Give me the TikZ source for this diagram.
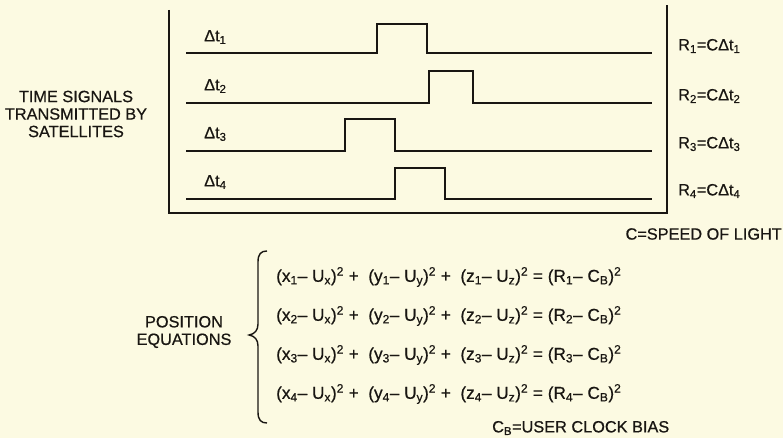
\documentclass[tikz,border=0pt]{standalone}
\usepackage{fontspec}
\setmainfont{Liberation Sans}[FakeBold=0.6]
\definecolor{paper}{RGB}{252,250,226}
\definecolor{ink}{RGB}{25,22,18}
\newcommand{\sbs}[1]{\textsubscript{#1}}
\newcommand{\sps}[1]{\textsuperscript{#1}}
\begin{document}
\begin{tikzpicture}[x=1pt,y=-1pt,
  wire/.style={line width=2.7pt, draw=ink, line join=miter},
  frame/.style={line width=2.3pt, draw=ink},
  lbl/.style={font=\fontsize{16.3}{17.5}\selectfont, text=ink, inner sep=0pt},
  eqn/.style={font=\fontsize{17.2}{18}\selectfont, text=ink, inner sep=0pt, anchor=west},
  brace/.style={line width=1.4pt, draw=ink}]
\fill[paper] (0,0) rectangle (783,438);
\useasboundingbox (0,0) rectangle (783,438);
% frame
\draw[frame] (169,10) -- (169,213) -- (667,213) -- (667,5);
% signals
\draw[wire] (186,53) -- (377,53) -- (377,24) -- (427,24) -- (427,53) -- (652,53);
\draw[wire] (186,103) -- (429,103) -- (429,71) -- (473,71) -- (473,103) -- (652,103);
\draw[wire] (186,151) -- (345,151) -- (345,119) -- (395,119) -- (395,151) -- (652,151);
\draw[wire] (186,199) -- (395,199) -- (395,168) -- (445,168) -- (445,199) -- (652,199);
% delta labels
\node[lbl, anchor=west] (d1) at (204,37) {Δt\sbs{1}};
\node[lbl, anchor=west] (d2) at (204,86) {Δt\sbs{2}};
\node[lbl, anchor=west] (d3) at (204,134) {Δt\sbs{3}};
\node[lbl, anchor=west] (d4) at (204,182) {Δt\sbs{4}};
% range labels
\node[lbl, anchor=west] (r1) at (678,46) {R\sbs{1}=CΔt\sbs{1}};
\node[lbl, anchor=west] (r2) at (678,96) {R\sbs{2}=CΔt\sbs{2}};
\node[lbl, anchor=west] (r3) at (678,144) {R\sbs{3}=CΔt\sbs{3}};
\node[lbl, anchor=west] (r4) at (678,191) {R\sbs{4}=CΔt\sbs{4}};
\node[lbl, anchor=east] (c) at (782,234) {C=SPEED OF LIGHT};
% left titles
\node[lbl, align=center] (ts) at (76,114) {TIME SIGNALS\\TRANSMITTED BY\\SATELLITES};
\node[lbl, align=center] (pe) at (184,332) {POSITION\\EQUATIONS};
% brace
\draw[brace] (267,251) .. controls (261,251) and (258,254) .. (258,262) -- (258,324) .. controls (258,330) and (255,334) .. (249,335) .. controls (255,336) and (258,340) .. (258,346) -- (258,412) .. controls (258,420) and (261,423) .. (267,423);
% equations
\node[eqn] (e1) at (276,277) {(x\sbs{1}– U\sbs{x})\sps{2} +\ \ (y\sbs{1}– U\sbs{y})\sps{2} +\ \ (z\sbs{1}– U\sbs{z})\sps{2} = (R\sbs{1}– C\sbs{B})\sps{2}};
\node[eqn] (e2) at (276,316) {(x\sbs{2}– U\sbs{x})\sps{2} +\ \ (y\sbs{2}– U\sbs{y})\sps{2} +\ \ (z\sbs{2}– U\sbs{z})\sps{2} = (R\sbs{2}– C\sbs{B})\sps{2}};
\node[eqn] (e3) at (276,355) {(x\sbs{3}– U\sbs{x})\sps{2} +\ \ (y\sbs{3}– U\sbs{y})\sps{2} +\ \ (z\sbs{3}– U\sbs{z})\sps{2} = (R\sbs{3}– C\sbs{B})\sps{2}};
\node[eqn] (e4) at (276,394) {(x\sbs{4}– U\sbs{x})\sps{2} +\ \ (y\sbs{4}– U\sbs{y})\sps{2} +\ \ (z\sbs{4}– U\sbs{z})\sps{2} = (R\sbs{4}– C\sbs{B})\sps{2}};
\node[lbl, anchor=west] (cb) at (492,428) {C\sbs{B}=USER CLOCK BIAS};
\end{tikzpicture}
\end{document}
